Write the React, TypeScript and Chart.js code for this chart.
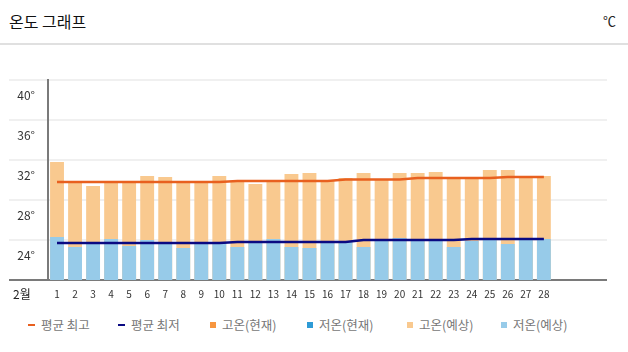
import React, { useEffect, useRef } from "react";
import { Chart, registerables } from "chart.js";

Chart.register(...registerables);

const titleText = "온도 그래프";
const unitText = "℃";
const monthLabel = "2월";

const dayLabels = [
  "1", "2", "3", "4", "5", "6", "7", "8", "9", "10",
  "11", "12", "13", "14", "15", "16", "17", "18", "19", "20",
  "21", "22", "23", "24", "25", "26", "27", "28", "", "", "",
];

const avgHigh = [
  29.8, 29.8, 29.8, 29.8, 29.8, 29.8, 29.8, 29.8, 29.8, 29.8,
  29.9, 29.9, 29.9, 29.9, 29.9, 29.9, 30.05, 30.05, 30.05, 30.05,
  30.2, 30.2, 30.2, 30.2, 30.2, 30.3, 30.3, 30.3,
];
const avgLow = [
  23.7, 23.7, 23.7, 23.7, 23.7, 23.7, 23.7, 23.7, 23.7, 23.7,
  23.8, 23.8, 23.8, 23.8, 23.8, 23.8, 23.8, 24.0, 24.0, 24.0,
  24.0, 24.0, 24.0, 24.1, 24.1, 24.1, 24.1, 24.1,
];
const highNow: (number | null)[] = [];
const lowNow: (number | null)[] = [];
const highForecast = [
  31.8, 29.8, 29.4, 29.7, 29.8, 30.4, 30.3, 29.8, 29.8, 30.4,
  29.9, 29.6, 29.9, 30.6, 30.7, 29.9, 30.2, 30.7, 30.1, 30.7,
  30.7, 30.8, 30.2, 30.2, 31.0, 31.0, 30.4, 30.4,
];
const lowForecast = [
  24.3, 23.3, 23.7, 24.1, 23.4, 24.0, 23.7, 23.2, 23.7, 23.7,
  23.3, 23.9, 24.1, 23.3, 23.2, 23.8, 23.8, 23.3, 24.0, 24.2,
  24.1, 24.0, 23.3, 23.9, 24.1, 23.6, 24.1, 24.1,
];

const yMin = 20;
const yMax = 40;
const yStep = 4;

const seriesNames = ["평균 최고", "평균 최저", "고온(현재)", "저온(현재)", "고온(예상)", "저온(예상)"];
const seriesColors = ["#e8601f", "#0a0a82", "#f7963f", "#2e9bd6", "#f9c98f", "#97cbe9"];
const seriesKinds = ["line", "line", "rect", "rect", "rect", "rect"];
const legendSlotWidths = [90, 92, 97, 100, 94, 80];

const FONT = "'Noto Sans CJK KR', 'Noto Sans', sans-serif";

export default function App() {
  const canvasRef = useRef<HTMLCanvasElement | null>(null);

  useEffect(() => {
    const canvas = canvasRef.current;
    if (!canvas) return;
    const chart = new Chart(canvas, {
      type: "bar",
      data: {
        labels: dayLabels,
        datasets: [
          {
            type: "line",
            label: seriesNames[0],
            data: avgHigh,
            borderColor: seriesColors[0],
            backgroundColor: seriesColors[0],
            borderWidth: 2.5,
            pointRadius: 0,
            tension: 0,
            order: 0,
          } as any,
          {
            type: "line",
            label: seriesNames[1],
            data: avgLow,
            borderColor: seriesColors[1],
            backgroundColor: seriesColors[1],
            borderWidth: 2.5,
            pointRadius: 0,
            tension: 0,
            order: 0,
          } as any,
          {
            label: seriesNames[2],
            data: highNow,
            backgroundColor: seriesColors[2],
            grouped: false,
            order: 2,
          },
          {
            label: seriesNames[3],
            data: lowNow,
            backgroundColor: seriesColors[3],
            grouped: false,
            order: 1,
          },
          {
            label: seriesNames[4],
            data: highForecast,
            backgroundColor: seriesColors[4],
            grouped: false,
            order: 2,
          },
          {
            label: seriesNames[5],
            data: lowForecast,
            backgroundColor: seriesColors[5],
            grouped: false,
            order: 1,
          },
        ],
      },
      options: {
        animation: false,
        responsive: false,
        maintainAspectRatio: false,
        layout: { padding: { top: 20, right: 21, left: 0, bottom: 0 } },
        datasets: {
          bar: { barPercentage: 0.77, categoryPercentage: 1 },
        },
        plugins: {
          legend: { display: false },
          tooltip: { enabled: false },
          title: { display: false },
        },
        scales: {
          x: {
            type: "category",
            offset: true,
            grid: { display: false, drawTicks: false },
            border: { display: false },
            ticks: {
              autoSkip: false,
              maxRotation: 0,
              padding: 8,
              color: "#333",
              font: { family: FONT, size: 10 },
            },
            afterFit: (scale: any) => {
              scale.height = 30;
            },
          },
          y: {
            min: yMin,
            max: yMax,
            grid: {
              drawTicks: true,
              tickLength: 39,
              color: (ctx: any) => (ctx.tick && ctx.tick.value === yMin ? "#7a7a7a" : "#f0f0f0"),
              lineWidth: 2,
            },
            border: { display: true, color: "#7a7a7a", width: 2 },
            ticks: {
              stepSize: yStep,
              padding: -26,
              labelOffset: 15,
              color: "#333",
              font: { family: FONT, size: 12 },
              callback: (v: any) => (Number(v) === yMin ? "" : v + "°"),
            },
            afterFit: (scale: any) => {
              scale.width = 48;
            },
          },
        },
      },
    });
    return () => chart.destroy();
  }, []);

  return (
    <div
      style={{
        position: "fixed",
        left: 0,
        top: 0,
        width: 628,
        height: 352,
        background: "#fff",
        fontFamily: FONT,
        overflow: "hidden",
      }}
    >
      <div
        style={{
          position: "absolute",
          left: 9,
          top: 10,
          fontSize: 16,
          lineHeight: "22px",
          color: "#111",
        }}
      >
        {titleText}
      </div>
      <div
        style={{
          position: "absolute",
          right: 12,
          top: 10,
          fontSize: 13,
          lineHeight: "22px",
          color: "#222",
        }}
      >
        {unitText}
      </div>
      <div
        style={{
          position: "absolute",
          left: 0,
          top: 43,
          width: 628,
          height: 2,
          background: "#e0e0e0",
        }}
      />
      <canvas
        ref={canvasRef}
        width={628}
        height={250}
        style={{ position: "absolute", left: 0, top: 60, width: 628, height: 250 }}
      />
      <div
        style={{
          position: "absolute",
          left: 13,
          top: 285,
          fontSize: 12,
          lineHeight: "18px",
          color: "#222",
        }}
      >
        {monthLabel}
      </div>
      <div
        style={{
          position: "absolute",
          left: 28,
          top: 316,
          height: 18,
          display: "flex",
          alignItems: "center",
          fontSize: 12.5,
          color: "#777",
        }}
      >
        {seriesNames.map((name, i) => (
          <div
            key={name}
            style={{ display: "flex", alignItems: "center", width: legendSlotWidths[i], flex: "none" }}
          >
            <span
              style={{
                display: "inline-block",
                width: seriesKinds[i] === "line" ? 7 : 6,
                height: seriesKinds[i] === "line" ? 2 : 6,
                background: seriesColors[i],
                marginRight: seriesKinds[i] === "line" ? 6 : 6,
                flex: "none",
              }}
            />
            <span style={{ lineHeight: "18px", whiteSpace: "nowrap" }}>{name}</span>
          </div>
        ))}
      </div>
    </div>
  );
}
